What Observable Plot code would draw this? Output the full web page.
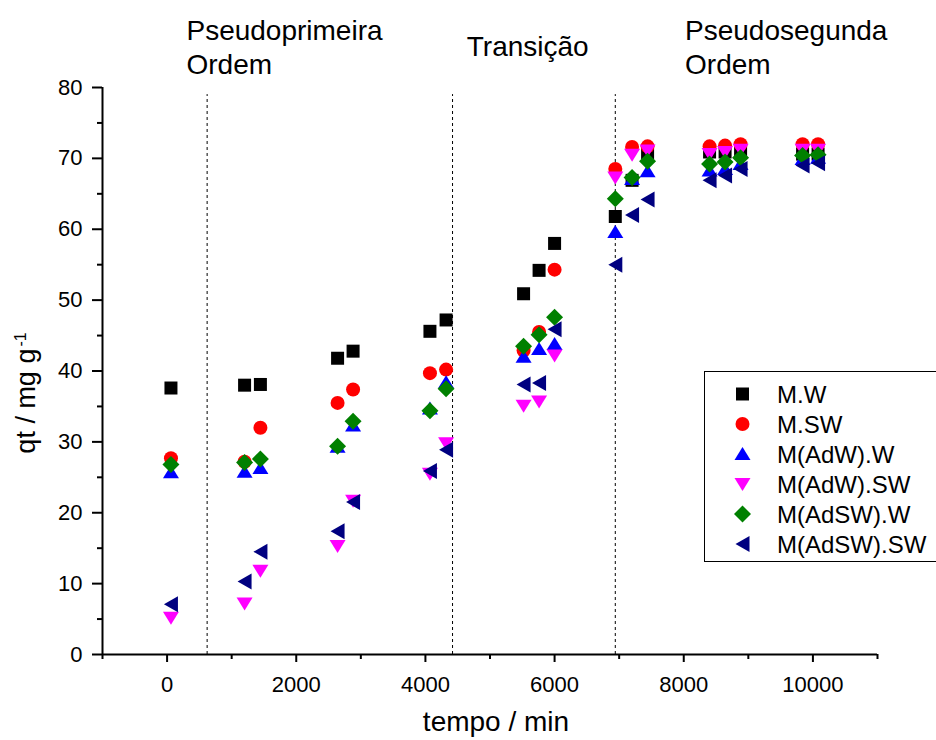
<!DOCTYPE html>
<html><head><meta charset="utf-8">
<script src="https://cdn.jsdelivr.net/npm/d3@7"></script>
<script src="https://cdn.jsdelivr.net/npm/@observablehq/plot@0.6"></script>
<style>
html,body{margin:0;padding:0;background:#fff;overflow:hidden;}
#wrap{position:relative;width:936px;height:740px;font-family:"Liberation Sans",Arial,sans-serif;}
#legend{position:absolute;left:704px;top:371px;width:250px;height:191px;border:1.5px solid #000;background:#fff;box-sizing:border-box;}
</style></head><body><div id="wrap"></div>
<script>
// ---- data ----
const times = [60, 1200, 1445, 2640, 2880, 4070, 4320, 5520, 5760, 6000, 6940, 7200, 7440, 8400, 8640, 8880, 9840, 10080];
const seriesNames = ["M.W", "M.SW", "M(AdW).W", "M(AdW).SW", "M(AdSW).W", "M(AdSW).SW"];
const seriesColors = ["#000000", "#ff0000", "#0000ff", "#ff00ff", "#008000", "#000080"];
const qtMW      = [37.6, 38.0, 38.1, 41.8, 42.8, 45.6, 47.2, 50.9, 54.2, 58.0, 61.8, 66.9, 70.4, 70.9, 70.9, 70.9, 70.6, 70.6];
const qtMSW     = [27.7, 27.2, 32.0, 35.5, 37.4, 39.7, 40.2, 42.9, 45.5, 54.3, 68.5, 71.6, 71.7, 71.7, 71.8, 72.0, 72.0, 72.0];
const qtAdWW    = [25.7, 25.8, 26.3, 29.3, 32.3, 34.7, 38.4, 42.0, 43.1, 43.8, 59.6, 67.1, 68.2, 68.3, 68.5, 69.2, 69.9, 70.1];
const qtAdWSW   = [5.2, 7.2, 11.8, 15.3, 21.7, 25.5, 29.8, 35.1, 35.7, 42.2, 67.3, 70.5, 71.1, 70.6, 70.9, 71.2, 71.2, 71.2];
const qtAdSWW   = [26.8, 27.1, 27.6, 29.4, 32.9, 34.4, 37.5, 43.5, 45.1, 47.6, 64.3, 67.3, 69.6, 69.2, 69.5, 70.1, 70.4, 70.5];
const qtAdSWSW  = [7.1, 10.3, 14.5, 17.4, 21.5, 25.9, 28.9, 38.1, 38.3, 45.9, 55.0, 62.0, 64.2, 66.9, 67.6, 68.5, 69.0, 69.3];
const seriesValues = [qtMW, qtMSW, qtAdWW, qtAdWSW, qtAdSWW, qtAdSWSW];
const phaseBounds = [620, 4420, 6940];
const phaseLabelsTwoLine = ["Pseudoprimeira\nOrdem", "Pseudosegunda\nOrdem"];
const phaseLabelsTwoLineX = [300, 8020];
const phaseLabelsOneLine = ["Transição"];
const phaseLabelsOneLineX = [4640];
const xMajorTicks = [0, 2000, 4000, 6000, 8000, 10000];
const xMinorTicks = [-1000, 1000, 3000, 5000, 7000, 9000, 11000];
const yMajorTicks = [0, 10, 20, 30, 40, 50, 60, 70, 80];
const yMinorTicks = [5, 15, 25, 35, 45, 55, 65, 75];

// ---- symbols ----
function poly(pts){ return {draw(c){ c.moveTo(pts[0][0], pts[0][1]); for (let i = 1; i < pts.length; i++) c.lineTo(pts[i][0], pts[i][1]); c.closePath(); }}; }
const symbols = [
  poly([[-6.5,-6.5],[6.5,-6.5],[6.5,6.5],[-6.5,6.5]]),
  {draw(c){ c.moveTo(7,0); c.arc(0,0,7,0,2*Math.PI); c.closePath(); }},
  poly([[0,-7],[8,6],[-8,6]]),
  poly([[0,7],[8,-6],[-8,-6]]),
  poly([[0,-8.5],[8.5,0],[0,8.5],[-8.5,0]]),
  poly([[-7,0],[7,-8],[7,8]])
];

const rows = seriesNames.map((name, i) => times.map((t, j) => ({t, qt: seriesValues[i][j], name})));

const marks = [
  Plot.ruleX(phaseBounds, {y1: 0, y2: 79, stroke: "#000", strokeWidth: 1, strokeDasharray: "3,3"}),
  Plot.axisX({ticks: xMinorTicks, tickSize: 5, tickFormat: () => "", strokeWidth: 2, label: null}),
  Plot.axisX({ticks: xMajorTicks, tickSize: 8, tickPadding: 14, tickFormat: d => String(d), strokeWidth: 2, fontSize: 22, label: null}),
  Plot.axisY({ticks: yMinorTicks, tickSize: 5, tickFormat: () => "", strokeWidth: 2, label: null}),
  Plot.axisY({ticks: yMajorTicks, tickSize: 10, tickPadding: 10, tickFormat: d => String(d), strokeWidth: 2, fontSize: 22, label: null}),
  Plot.ruleY([0], {stroke: "#000", strokeWidth: 2}),
  Plot.ruleX([-1000], {stroke: "#000", strokeWidth: 2}),
  ...rows.map((r, i) => Plot.dot(r, {x: "t", y: "qt", symbol: symbols[i], fill: seriesColors[i], stroke: "none", r: 7})),
  Plot.text(phaseLabelsTwoLine, {x: (d, i) => phaseLabelsTwoLineX[i], frameAnchor: "top", text: d => d, textAnchor: "start", lineAnchor: "top", lineHeight: 1.2, dy: -71, fontSize: 28, fill: "#000"}),
  Plot.text(phaseLabelsOneLine, {x: (d, i) => phaseLabelsOneLineX[i], frameAnchor: "top", text: d => d, textAnchor: "start", lineAnchor: "top", dy: -51, fontSize: 28, fill: "#000"}),
  Plot.text(["tempo / min"], {frameAnchor: "bottom", text: d => d, lineAnchor: "top", dy: 57, dx: 6, fontSize: 28, fill: "#000"})
];

const svg = Plot.plot({
  width: 936, height: 740,
  marginLeft: 102, marginRight: 59, marginTop: 87, marginBottom: 86,
  x: {domain: [-1000, 11000], label: null},
  y: {domain: [0, 80], label: null},
  style: {fontFamily: "'Liberation Sans', Arial, sans-serif", fontSize: "22px", background: "#fff", color: "#000"},
  marks
});

// y-axis title with superscript
const yl = d3.select(svg).append("text")
  .attr("transform", "translate(35,393) rotate(-90)")
  .attr("text-anchor", "middle")
  .attr("fill", "#000")
  .style("font-size", "27px");
yl.append("tspan").text("qt / mg g");
yl.append("tspan").attr("dx", "2").attr("dy", "-0.55em").style("font-size", "16px").text("-1");

const wrap = document.getElementById("wrap");
wrap.appendChild(svg);

// legend
const leg = document.createElement("div");
leg.id = "legend";
const lsvg = d3.create("svg").attr("width", 250).attr("height", 191);
seriesNames.forEach((name, i) => {
  const cy = 22 + i * 30;
  lsvg.append("path").attr("transform", `translate(37.5,${cy})`).attr("d", d3.symbol(symbols[i])()).attr("fill", seriesColors[i]);
  lsvg.append("text").attr("x", 72).attr("y", cy).attr("dy", "0.36em").attr("fill", "#000")
    .style("font-size", "24px").style("font-family", "'Liberation Sans', Arial, sans-serif").text(name);
});
leg.appendChild(lsvg.node());
wrap.appendChild(leg);
</script>
</body></html>
